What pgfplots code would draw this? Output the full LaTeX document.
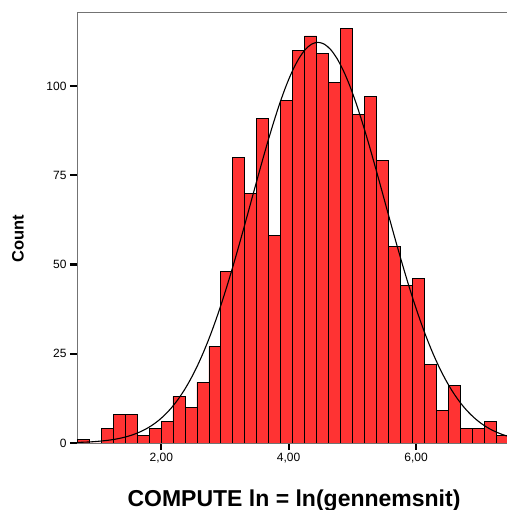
\documentclass[border=0pt]{standalone}
\usepackage{fontspec}
\setmainfont{Liberation Sans}
\usepackage{pgfplots}
\pgfplotsset{compat=1.18}
\usetikzlibrary{calc}
\definecolor{barred}{RGB}{255,51,51}

\begin{document}
\begin{tikzpicture}
\begin{axis}[
    scale only axis, width=431.4pt, height=431pt,
    xmin=0.677, xmax=7.45, ymin=0, ymax=120.7,
    xtick={2,4,6}, xticklabels={{2,00},{4,00},{6,00}},
    ytick={0,25,50,75,100},
    tick pos=left, tick align=outside, major tick length=7pt,
    tick style={black, line width=2.2pt},
    axis line style={black!55, line width=0.8pt},
    tick label style={font=\fontsize{12}{14}\selectfont},
    /pgf/number format/assume math mode=true,
]
  \coordinate (bl) at (axis cs:0.677,0);
  % histogram, bin width 0.188
  \addplot[ybar interval, fill=barred, draw=black, line width=0.8pt] coordinates {
    (0.680,1) (0.868,0) (1.056,4) (1.244,8) (1.432,8) (1.620,2) (1.808,4)
    (1.996,6) (2.184,13) (2.372,10) (2.560,17) (2.748,27) (2.936,48)
    (3.124,80) (3.312,70) (3.500,91) (3.688,58) (3.876,96) (4.064,110)
    (4.252,114) (4.440,109) (4.628,101) (4.816,116) (5.004,92) (5.192,97)
    (5.380,79) (5.568,55) (5.756,44) (5.944,46) (6.132,22) (6.320,9)
    (6.508,16) (6.696,4) (6.884,4) (7.072,6) (7.260,2) (7.448,2)
  };
  % normal curve
  \addplot[black, line width=1.1pt, smooth] coordinates {
    (0.66,0.15) (0.76,0.21) (0.86,0.29) (0.96,0.40) (1.06,0.56) (1.16,0.75)
    (1.26,1.01) (1.36,1.35) (1.46,1.79) (1.56,2.35) (1.66,3.06) (1.76,3.93)
    (1.86,5.02) (1.96,6.34) (2.06,7.95) (2.16,9.86) (2.26,12.13) (2.36,14.78)
    (2.46,17.85) (2.56,21.35) (2.66,25.31) (2.76,29.72) (2.86,34.59)
    (2.96,39.89) (3.06,45.58) (3.16,51.60) (3.26,57.88) (3.36,64.34)
    (3.46,70.86) (3.56,77.32) (3.66,83.61) (3.76,89.57) (3.86,95.09)
    (3.96,100.02) (4.06,104.24) (4.16,107.65) (4.26,110.16) (4.36,111.69)
    (4.46,112.2) (4.56,111.69) (4.66,110.16) (4.76,107.65) (4.86,104.24)
    (4.96,100.02) (5.06,95.09) (5.16,89.57) (5.26,83.61) (5.36,77.32)
    (5.46,70.86) (5.56,64.34) (5.66,57.88) (5.76,51.60) (5.86,45.58)
    (5.96,39.89) (6.06,34.59) (6.16,29.72) (6.26,25.31) (6.36,21.35)
    (6.46,17.85) (6.56,14.78) (6.66,12.13) (6.76,9.86) (6.86,7.95)
    (6.96,6.34) (7.06,5.02) (7.16,3.93) (7.26,3.06) (7.36,2.35) (7.46,1.79)
  };
\end{axis}
\pgfresetboundingbox
\path[use as bounding box] ($(bl)+(-77pt,-67pt)$) rectangle ($(bl)+(429pt,443pt)$);
\node[anchor=base, font=\bfseries\fontsize{23}{27}\selectfont] at ($(bl)+(217pt,-63pt)$) {COMPUTE ln = ln(gennemsnit)};
\node[rotate=90, font=\bfseries\fontsize{16.5}{19}\selectfont] at ($(bl)+(-59pt,204pt)$) {Count};
\end{tikzpicture}
\end{document}
